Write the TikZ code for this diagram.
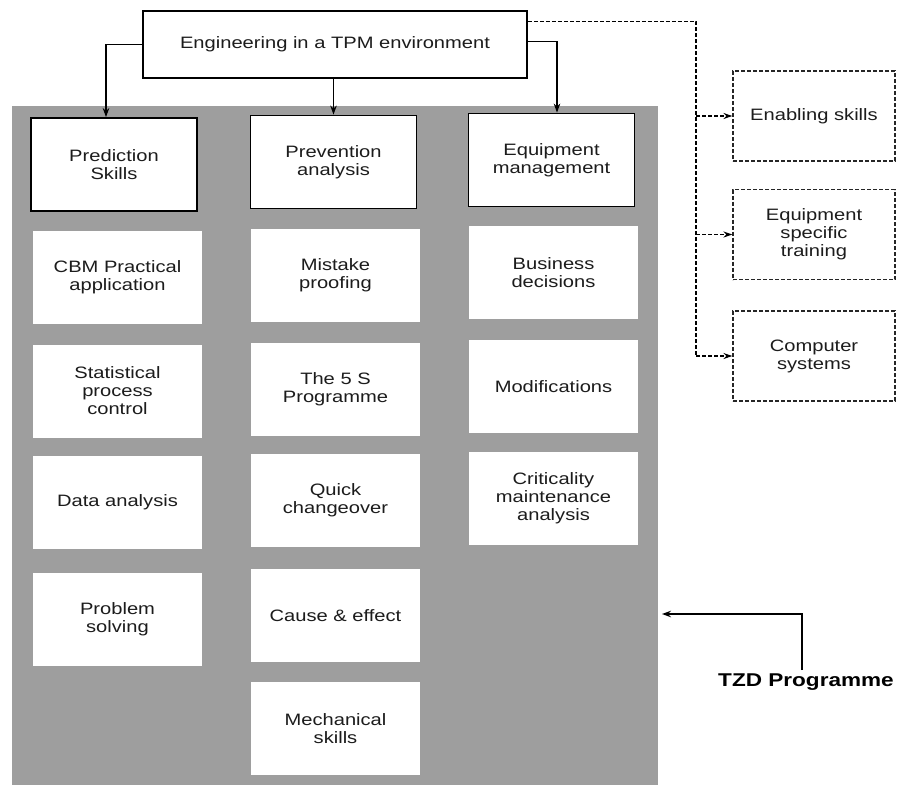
\documentclass[tikz,border=0pt]{standalone}
\usepackage{fontspec}
\setmainfont{Liberation Sans}[FakeStretch=1.22]
\usetikzlibrary{arrows.meta,positioning,calc}
\definecolor{panelgray}{RGB}{158,158,158}
\definecolor{inkgray}{RGB}{28,28,28}

\begin{document}
\begin{tikzpicture}[
  x=1pt,y=-1pt,
  txt/.style={
    align=center,
    text=inkgray,
    font=\fontsize{16.5}{18}\selectfont
  },
  hdr/.style={
    txt,
    draw=black,
    line width=1.8pt,
    fill=white,
    minimum width=166pt,
    minimum height=93pt
  },
  item/.style={
    txt,
    fill=white,
    minimum width=169pt,
    minimum height=93pt
  },
  side/.style={
    txt,
    draw=black!85,
    line width=1.1pt,
    dash pattern=on 4pt off 2pt,
    minimum width=162pt,
    minimum height=90pt
  },
  arr/.style={line width=1.4pt,-{Stealth[length=9pt,width=6.5pt]}},
  dline/.style={line width=1.1pt,dash pattern=on 4pt off 2pt}
]
\useasboundingbox (0,0) rectangle (897,787);

% shaded panel behind the three columns
\node[fill=panelgray,minimum width=646pt,minimum height=679pt,inner sep=0pt] (panel) at (335,445.5) {};

\node[txt,draw=black,line width=1.5pt,fill=white,minimum width=384pt,minimum height=67pt] (top) at (335,44.5) {Engineering in a TPM environment};

% column heads
\node[hdr] (pred) at (114,164.5) {Prediction\\Skills};
\node[hdr] (prev) at (333.5,162) {Prevention\\analysis};
\node[hdr] (equip) at (551.5,160) {Equipment\\management};

% prediction column
\node[item] (cbm) at (117.5,277.5) {CBM Practical\\application};
\node[item] (spc) at (117.5,391) {Statistical\\process\\control};
\node[item] (data) at (117.5,502.5) {Data analysis};
\node[item] (prob) at (117.5,619.5) {Problem\\solving};

% prevention column
\node[item] (mist) at (335.5,275) {Mistake\\proofing};
\node[item] (fives) at (335.5,389) {The 5 S\\Programme};
\node[item] (quick) at (335.5,500.5) {Quick\\changeover};
\node[item] (cause) at (335.5,615.5) {Cause \& effect};
\node[item] (mech) at (335.5,728.5) {Mechanical\\skills};

% equipment column
\node[item] (bus) at (553.5,272.5) {Business\\decisions};
\node[item] (mods) at (553.5,386.5) {Modifications};
\node[item] (crit) at (553.5,498) {Criticality\\maintenance\\analysis};

% dashed side boxes
\node[side] (enab) at (814,116) {Enabling skills};
\node[side] (spec) at (814,234.5) {Equipment\\specific\\training};
\node[side] (comp) at (814,356) {Computer\\systems};

\node[txt,font=\fontsize{18.5}{20}\selectfont\bfseries,text=black] (tzd) at (806,682) {TZD Programme};

\coordinate (bus) at (696,0);
\coordinate (tzdin) at (662,614);

\draw[arr] (top.west) -| ([xshift=-8pt]pred.north);
\draw[arr] (top.south -| prev.north) -- (prev.north);
\draw[arr] ([yshift=3pt]top.east) -| ([xshift=5.5pt]equip.north);

\draw[dline] ([yshift=23pt]top.east) -| (bus |- comp.west);
\draw[dline,-{Stealth[length=9pt,width=6pt]}] (bus |- comp.west) -- (comp.west);
\draw[dline,-{Stealth[length=9pt,width=6pt]}] (bus |- spec.west) -- (spec.west);
\draw[dline,-{Stealth[length=9pt,width=6pt]}] (bus |- enab.west) -- (enab.west);

\draw[arr] ([xshift=-4pt]tzd.north) |- (tzdin);
\end{tikzpicture}
\end{document}
